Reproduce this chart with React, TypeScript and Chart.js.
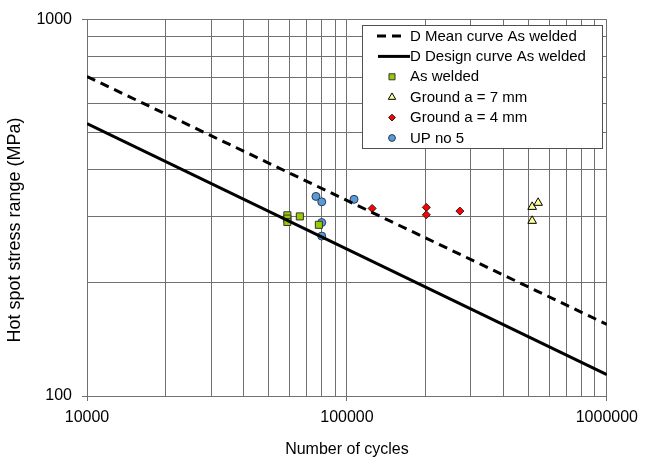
import React, { useEffect, useRef } from 'react';
import { Chart, registerables } from 'chart.js';
import { drawPoint } from 'chart.js/helpers';

Chart.register(...registerables);

// ---- Data ----
const X_MIN = 10000;
const X_MAX = 1000000;
const Y_MIN = 100;
const Y_MAX = 1000;

const CURVE_N = [10000, 1000000];
const MEAN_S = [706, 155];
const DESIGN_S = [529, 114];

const AS_WELDED_N = [59000, 59000, 59000, 65900, 78000];
const AS_WELDED_S = [302, 296, 290, 300, 285];

const GROUND7_N = [516000, 544000, 516000];
const GROUND7_S = [318, 326, 292];

const GROUND4_N = [125000, 202000, 202000, 272000];
const GROUND4_S = [315, 317, 303, 310];

const UP5_N = [76000, 80000, 106500, 80000, 80000];
const UP5_S = [339, 328, 333, 289, 266];

const LABELS = [
  'D Mean curve As welded',
  'D Design curve As welded',
  'As welded',
  'Ground a = 7 mm',
  'Ground a = 4 mm',
  'UP no 5',
];

const X_TITLE = 'Number of cycles';
const Y_TITLE = 'Hot spot stress range (MPa)';

const FONT = "'Liberation Sans', Arial, sans-serif";
const GRID = '#707070';

const pts = (xs: number[], ys: number[]) => xs.map((x, i) => ({ x, y: ys[i] }));

const isPow10 = (v: number) => {
  const l = Math.log10(v);
  return Math.abs(l - Math.round(l)) < 1e-9;
};

const logTicks = (min: number, max: number) => {
  const t: { value: number; major: boolean }[] = [];
  for (let d = min; d < max; d *= 10) {
    for (let m = 1; m < 10; m++) t.push({ value: m * d, major: m === 1 });
  }
  t.push({ value: max, major: true });
  return t;
};

const yTitlePlugin = {
  id: 'yTitle',
  afterDraw(chart: any) {
    const ctx = chart.ctx as CanvasRenderingContext2D;
    ctx.save();
    ctx.translate(15.5, 230);
    ctx.rotate(-Math.PI / 2);
    ctx.font = `18px ${FONT}`;
    ctx.fillStyle = '#000';
    ctx.textAlign = 'center';
    ctx.textBaseline = 'middle';
    ctx.fillText(Y_TITLE, 0, 0);
    ctx.restore();
  },
};

const boxLegend = {
  id: 'boxLegend',
  afterDatasetsDraw(chart: any) {
    const ctx = chart.ctx as CanvasRenderingContext2D;
    const left = 362;
    const top = 25;
    const w = 240;
    const h = 123;
    ctx.save();
    ctx.fillStyle = '#ffffff';
    ctx.fillRect(left, top, w, h);
    ctx.strokeStyle = '#505050';
    ctx.lineWidth = 1;
    ctx.strokeRect(left + 0.5, top + 0.5, w, h);
    ctx.font = `15px ${FONT}`;
    ctx.textBaseline = 'middle';
    ctx.textAlign = 'left';
    chart.data.datasets.forEach((ds: any, i: number) => {
      const y = top + 11 + i * 20.4;
      if (ds.showLine) {
        ctx.save();
        ctx.strokeStyle = ds.borderColor;
        ctx.lineWidth = ds.borderWidth;
        ctx.setLineDash(ds.borderDash || []);
        ctx.beginPath();
        if (ds.borderDash && ds.borderDash.length) {
          ctx.moveTo(377, y);
          ctx.lineTo(402, y);
        } else {
          ctx.moveTo(378, y);
          ctx.lineTo(410, y);
        }
        ctx.stroke();
        ctx.restore();
      } else {
        ctx.save();
        ctx.fillStyle = ds.backgroundColor;
        ctx.strokeStyle = ds.borderColor;
        ctx.lineWidth = 1;
        drawPoint(ctx, { pointStyle: ds.pointStyle, radius: ds.pointRadius * 0.85, rotation: 0, borderWidth: 1 } as any, 392, y);
        ctx.restore();
      }
      ctx.fillStyle = '#000';
      ctx.fillText(ds.label, 410, y + 0.5);
    });
    ctx.restore();
  },
};

const axisCommon = (min: number, max: number) => ({
  type: 'logarithmic' as const,
  min,
  max,
  afterBuildTicks: (scale: any) => {
    scale.ticks = logTicks(min, max);
  },
  ticks: {
    autoSkip: false,
    maxRotation: 0,
    color: '#000',
    font: { family: FONT, size: 16 },
    callback: (v: any) => (isPow10(Number(v)) ? String(Math.round(Number(v))) : ''),
  },
  grid: {
    color: GRID,
    lineWidth: 1,
    drawTicks: true,
    tickLength: 5,
    tickColor: (c: any) => (c.tick && isPow10(c.tick.value) ? GRID : 'rgba(0,0,0,0)'),
  },
  border: { display: true, color: GRID, width: 1 },
});

export default function App() {
  const ref = useRef<HTMLCanvasElement | null>(null);

  useEffect(() => {
    if (!ref.current) return;
    const xAxis: any = axisCommon(X_MIN, X_MAX);
    xAxis.position = 'bottom';
    xAxis.ticks.padding = 7;
    xAxis.afterFit = (s: any) => {
      s.height = 63;
    };
    xAxis.title = {
      display: true,
      text: X_TITLE,
      color: '#000',
      font: { family: FONT, size: 16 },
      padding: { top: 0, bottom: 0 },
    };
    const yAxis: any = axisCommon(Y_MIN, Y_MAX);
    yAxis.position = 'left';
    yAxis.ticks.padding = 10;
    yAxis.afterFit = (s: any) => {
      s.width = 87;
    };

    const chart = new Chart(ref.current, {
      type: 'scatter',
      data: {
        datasets: [
          {
            label: LABELS[0],
            data: pts(CURVE_N, MEAN_S),
            showLine: true,
            borderColor: '#000',
            backgroundColor: '#000',
            borderWidth: 3,
            borderDash: [9, 6],
            pointRadius: 0,
          },
          {
            label: LABELS[1],
            data: pts(CURVE_N, DESIGN_S),
            showLine: true,
            borderColor: '#000',
            backgroundColor: '#000',
            borderWidth: 3,
            pointRadius: 0,
          },
          {
            label: LABELS[2],
            data: pts(AS_WELDED_N, AS_WELDED_S),
            pointStyle: 'rect',
            pointRadius: 5,
            backgroundColor: '#99CC00',
            borderColor: '#333',
            borderWidth: 1,
          },
          {
            label: LABELS[3],
            data: pts(GROUND7_N, GROUND7_S),
            pointStyle: 'triangle',
            pointRadius: 5,
            backgroundColor: '#FFFF99',
            borderColor: '#000',
            borderWidth: 1,
          },
          {
            label: LABELS[4],
            data: pts(GROUND4_N, GROUND4_S),
            pointStyle: 'rectRot',
            pointRadius: 4,
            backgroundColor: '#FF0000',
            borderColor: '#222',
            borderWidth: 1,
          },
          {
            label: LABELS[5],
            data: pts(UP5_N, UP5_S),
            pointStyle: 'circle',
            pointRadius: 4,
            backgroundColor: '#5B9BD5',
            borderColor: '#2a3a55',
            borderWidth: 1,
          },
        ] as any,
      },
      options: {
        animation: false,
        responsive: true,
        maintainAspectRatio: false,
        layout: { padding: { left: 0, right: 36, top: 19, bottom: 0 } },
        scales: { x: xAxis, y: yAxis },
        plugins: {
          legend: { display: false },
          tooltip: { enabled: false },
        },
      },
      plugins: [boxLegend, yTitlePlugin],
    });
    return () => chart.destroy();
  }, []);

  return (
    <div style={{ position: 'fixed', left: 0, top: 0, width: 645, height: 459, background: '#fff' }}>
      <canvas ref={ref} />
    </div>
  );
}
